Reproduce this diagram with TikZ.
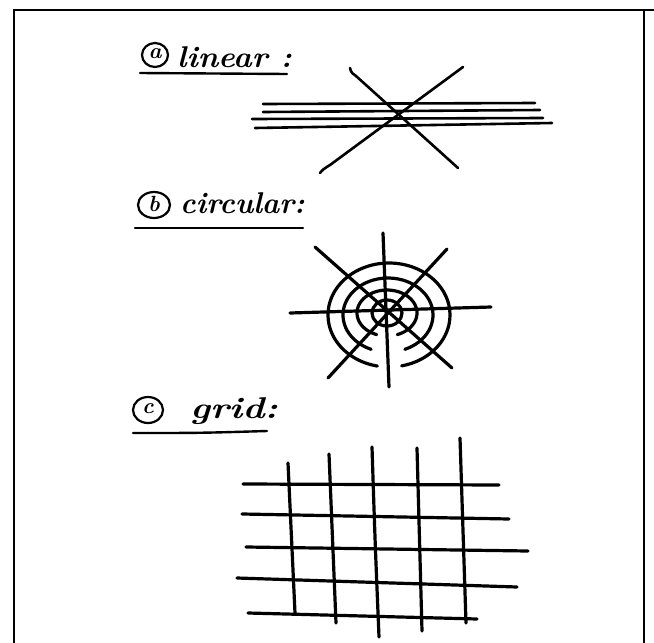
\documentclass[tikz,border=0pt]{standalone}
\usepackage{fontspec}
\begin{document}
\begin{tikzpicture}[x=1pt,y=-1pt,
  pen/.style={line width=3.2pt, line cap=round, line join=round},
  finepen/.style={line width=2.6pt, line cap=round, line join=round},
  framepen/.style={line width=1.8pt},
  ulpen/.style={line width=2.4pt, line cap=round},
  labeltext/.style={anchor=base west, inner sep=0pt, font=\fontsize{30}{34}\selectfont\bfseries\itshape},
  lettertext/.style={inner sep=0pt, font=\fontsize{22}{24}\selectfont\bfseries\itshape},
  circled/.style={line width=2.2pt}]
\useasboundingbox (0,0) rectangle (654,643);
% frame
\draw[framepen] (14,643) -- (14,10) -- (654,10);
\draw[framepen] (644,10) -- (644,643);

% ---- (a) linear
\draw[circled] (155,55) ellipse [x radius=13, y radius=12];
\node[lettertext] (la) at (155,54) {a};
\node[labeltext] (ta) at (177,67) {\scalebox{1.05}[1]{linear :}};
\draw[ulpen] (140,73) -- (287,74);

\draw[finepen] (263,104) -- (535,103);
\draw[finepen] (263,112) -- (540,110);
\draw[finepen] (252,119) -- (543,118);
\draw[finepen] (255,128) -- (552,123);
\draw[finepen] (350,68) .. controls (351,73) and (353,74) .. (356,76) -- (458,168);
\draw[finepen] (463,67) -- (330,165) .. controls (325,168) and (322,170) .. (320,173);

% ---- (b) circular
\draw[circled] (154,205) ellipse [x radius=16, y radius=13];
\node[lettertext] (lb) at (154,204) {b};
\node[labeltext] (tb) at (180,213) {\scalebox{0.98}[1]{circular:}};
\draw[ulpen] (135,228) -- (303,228);

\draw[pen] (383,233) -- (389,387);
\draw[pen] (290,313) -- (491,307);
\draw[pen] (315,247) -- (452,368);
\draw[pen] (447,249) -- (328,378);
\draw[pen] (387,313) ellipse [x radius=15, y radius=13];
\draw[pen] plot[domain=110:430, samples=60, smooth] ({387+30*cos(\x)}, {313+23*sin(\x)});
\draw[pen] plot[domain=112:428, samples=60, smooth] ({388+45*cos(\x)}, {315+37*sin(\x)});
\draw[pen] plot[domain=101:438, samples=70, smooth] ({389+61*cos(\x)}, {315+52*sin(\x)});

% ---- (c) grid
\draw[circled] (148,410) ellipse [x radius=15, y radius=13];
\node[lettertext] (lc) at (148,409) {c};
\node[labeltext] (tc) at (190,418) {\scalebox{1.25}[1]{grid:}};
\draw[ulpen] (133,433) .. controls (200,433) .. (267,431);

\draw[pen] (288,463) -- (295,613);
\draw[pen] (329,454) -- (336,623);
\draw[pen] (372,447) .. controls (375,540) .. (379,637);
\draw[pen] (417,448) -- (422,631);
\draw[pen] (460,438) -- (466,623);
\draw[pen] (243,484) -- (499,485);
\draw[pen] (242,514) -- (509,519);
\draw[pen] (246,547) -- (528,551);
\draw[pen] (237,578) -- (517,587);
\draw[pen] (248,613) -- (477,619);
\end{tikzpicture}
\end{document}
